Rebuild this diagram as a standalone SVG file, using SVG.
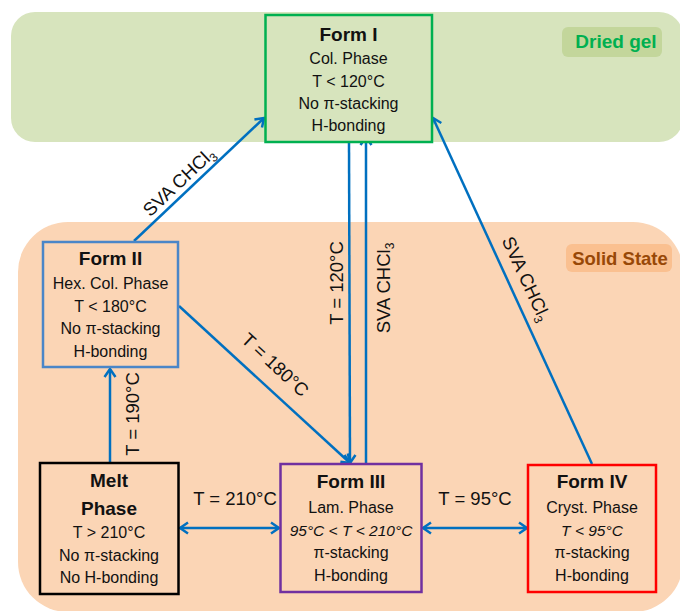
<svg xmlns="http://www.w3.org/2000/svg" width="680" height="611" viewBox="0 0 680 611">
<style>
text{font-family:"Liberation Sans",Arial,sans-serif;fill:#111}
.t{font-size:16px;text-anchor:middle}
.b{font-size:19px;font-weight:bold;text-anchor:middle}
.i{font-style:italic;font-size:15.5px}
.lbl{font-size:18.5px;text-anchor:middle}
.box{stroke-width:2.5}
.arr{stroke:#0070c0;stroke-width:2.5;fill:none}
</style>
<defs>
<marker id="ah" markerUnits="userSpaceOnUse" markerWidth="14" markerHeight="14" viewBox="-10 -7 12 14" refX="0" refY="0" orient="auto-start-reverse">
<path d="M-8,-5.5 L0,0 L-8,5.5" fill="none" stroke="#0070c0" stroke-width="2.5"/>
</marker>
</defs>
<g id="regions">
<rect x="11" y="12" width="672" height="130" rx="24" fill="#d7e4bd"/>
<rect x="18" y="222" width="665" height="390" rx="50" fill="#fbd5b5"/>
<rect x="562" y="27" width="100" height="30" rx="6" fill="#c3d69b"/>
<text x="616" y="48" style="font-size:19px;font-weight:bold;fill:#00b050;text-anchor:middle">Dried gel</text>
<rect x="566" y="244" width="106" height="28" rx="6" fill="#fac090"/>
<text x="620" y="265" style="font-size:18.5px;font-weight:bold;fill:#984807;text-anchor:middle">Solid State</text>
</g>
<g id="connectors">
<line class="arr" x1="134" y1="241" x2="264" y2="118" marker-end="url(#ah)"/>
<line class="arr" x1="349" y1="142" x2="350" y2="463" marker-end="url(#ah)"/>
<line class="arr" x1="366" y1="464" x2="366" y2="137" marker-end="url(#ah)"/>
<line class="arr" x1="179" y1="306" x2="350" y2="463" marker-end="url(#ah)"/>
<line class="arr" x1="592" y1="464" x2="433" y2="118" marker-end="url(#ah)"/>
<line class="arr" x1="110" y1="463" x2="110" y2="369" marker-end="url(#ah)"/>
<line class="arr" x1="180" y1="528" x2="279" y2="528" marker-start="url(#ah)" marker-end="url(#ah)"/>
<line class="arr" x1="423" y1="528" x2="527" y2="528" marker-start="url(#ah)" marker-end="url(#ah)"/>
<g transform="translate(179,182) rotate(-43.4)"><text class="lbl" y="6">SVA CHCl<tspan dy="4" font-size="12">3</tspan></text></g>
<g transform="translate(337,283) rotate(-90)"><text class="lbl" y="6">T = 120°C</text></g>
<g transform="translate(384,288) rotate(-90)"><text class="lbl" y="6">SVA CHCl<tspan dy="4" font-size="12">3</tspan></text></g>
<g transform="translate(275,365) rotate(42.9)"><text class="lbl" y="6">T = 180°C</text></g>
<g transform="translate(526,279) rotate(65.3)"><text class="lbl" y="6">SVA CHCl<tspan dy="4" font-size="12">3</tspan></text></g>
<g transform="translate(133,414) rotate(-90)"><text class="lbl" y="6">T = 190°C</text></g>
<text class="lbl" x="235" y="505">T = 210°C</text>
<text class="lbl" x="475" y="505">T = 95°C</text>
</g>
<g id="form1">
<rect class="box" x="265.5" y="15" width="166.5" height="127" fill="#d7e4bd" stroke="#00b050"/>
<text class="b" x="348.5" y="41">Form I</text>
<text class="t" x="348.5" y="64">Col. Phase</text>
<text class="t" x="348.5" y="87">T &lt; 120°C</text>
<text class="t" x="348.5" y="109">No π-stacking</text>
<text class="t" x="348.5" y="131">H-bonding</text>
</g>
<g id="form2">
<rect class="box" x="43" y="242" width="135" height="125" fill="#fbd5b5" stroke="#4a86c8"/>
<text class="b" x="110.5" y="265">Form II</text>
<text class="t" x="110.5" y="289">Hex. Col. Phase</text>
<text class="t" x="110.5" y="311.5">T &lt; 180°C</text>
<text class="t" x="110.5" y="334">No π-stacking</text>
<text class="t" x="110.5" y="357">H-bonding</text>
</g>
<g id="melt">
<rect class="box" x="40" y="463" width="138.5" height="131" fill="#fbd5b5" stroke="#000"/>
<text class="b" x="109" y="487">Melt</text>
<text class="b" x="109" y="515">Phase</text>
<text class="t" x="109" y="538">T &gt; 210°C</text>
<text class="t" x="109" y="561">No π-stacking</text>
<text class="t" x="109" y="583">No H-bonding</text>
</g>
<g id="form3">
<rect class="box" x="280.5" y="464" width="141" height="128" fill="#fbd5b5" stroke="#7030a0"/>
<text class="b" x="351" y="488">Form III</text>
<text class="t" x="351" y="513">Lam. Phase</text>
<text class="t i" x="351" y="535.5">95°C &lt; T &lt; 210°C</text>
<text class="t" x="351" y="558">π-stacking</text>
<text class="t" x="351" y="580.5">H-bonding</text>
</g>
<g id="form4">
<rect class="box" x="528" y="465" width="128" height="127" fill="#fbd5b5" stroke="#ff0000"/>
<text class="b" x="592" y="488">Form IV</text>
<text class="t" x="592" y="513">Cryst. Phase</text>
<text class="t i" x="592" y="535.5">T &lt; 95°C</text>
<text class="t" x="592" y="558">π-stacking</text>
<text class="t" x="592" y="580.5">H-bonding</text>
</g>
</svg>
